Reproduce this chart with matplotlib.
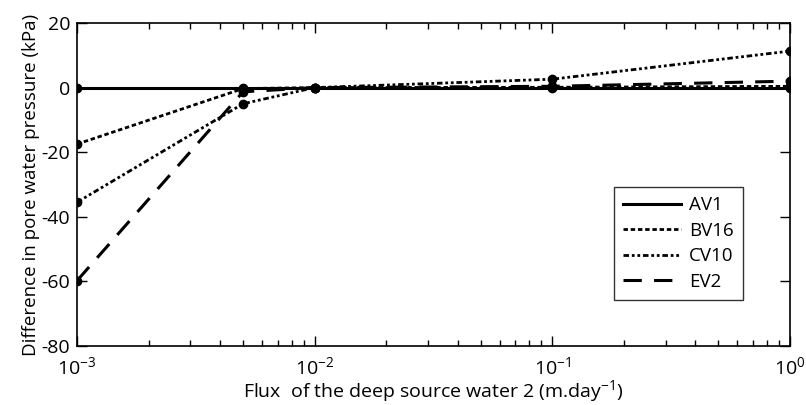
import numpy as np
import matplotlib
matplotlib.use("Agg")
import matplotlib.pyplot as plt
from matplotlib.ticker import LogLocator, FixedLocator

plt.rcParams['font.family'] = ['Open Sans', 'DejaVu Sans']
plt.rcParams['axes.unicode_minus'] = False
plt.rcParams['mathtext.fontset'] = 'custom'
plt.rcParams['mathtext.rm'] = 'Open Sans'
plt.rcParams['mathtext.it'] = 'Open Sans'
plt.rcParams['mathtext.default'] = 'rm'

# flux values (m/day)
flux = [0.001, 0.005, 0.01, 0.1, 1.0]

# difference in pore water pressure (kPa)
av1 = [0.0, 0.0, 0.0, 0.0, 0.0]
bv16 = [-17.5, -0.3, 0.0, 0.1, 0.4]
cv10 = [-35.5, -5.0, 0.0, 2.6, 11.3]
ev2 = [-59.8, -1.3, 0.0, 0.4, 2.0]

labels = ["AV1", "BV16", "CV10", "EV2"]

fig = plt.figure(figsize=(8.06, 4.05), dpi=100)
ax = fig.add_axes([0.0955, 0.1457, 0.8845, 0.7975])

ax.plot(flux, av1, color="black", lw=2.2, ls="-", marker="o", ms=6, label=labels[0])
ax.plot(flux, bv16, color="black", lw=2.0, ls=(0, (1.6, 1.0)), marker="o", ms=6, label=labels[1])
ax.plot(flux, cv10, color="black", lw=2.0, ls=(0, (2, 1, 1, 1, 1, 1)), marker="o", ms=6, label=labels[2])
ax.plot(flux, ev2, color="black", lw=2.2, ls=(0, (6, 4)), marker="o", ms=6, label=labels[3])

ax.set_xscale("log")
ax.set_xlim(1e-3, 1)
ax.set_ylim(-80, 20)
ax.set_yticks([-80, -60, -40, -20, 0, 20])
ax.xaxis.set_major_locator(FixedLocator([1e-3, 1e-2, 1e-1, 1]))
ax.set_xticklabels(["$10^{-3}$", "$10^{-2}$", "$10^{-1}$", "$10^{0}$"])
ax.xaxis.set_minor_locator(LogLocator(base=10, subs=np.arange(2, 10), numticks=20))

ax.tick_params(which="both", direction="in", top=True, right=True, labelsize=14, width=1)
ax.tick_params(which="major", length=7)
ax.tick_params(which="minor", length=4)
ax.tick_params(axis="x", pad=7)
ax.tick_params(axis="y", pad=5)
for s in ax.spines.values():
    s.set_linewidth(1.2)

ax.set_xlabel("Flux  of the deep source water 2 (m.day$^{-1}$)", fontsize=14, labelpad=0)
ax.set_ylabel("Difference in pore water pressure (kPa)", fontsize=13.5, labelpad=1)

leg = ax.legend(loc="upper left", bbox_to_anchor=(0.753, 0.492), borderaxespad=0,
                fancybox=False, edgecolor="black", fontsize=13.5, handlelength=3.1,
                borderpad=0.5, labelspacing=0.4, handletextpad=0.4)
leg.get_frame().set_linewidth(1.0)
for h in leg.legend_handles:
    h.set_marker("")

fig.savefig("out.png", dpi=100)
